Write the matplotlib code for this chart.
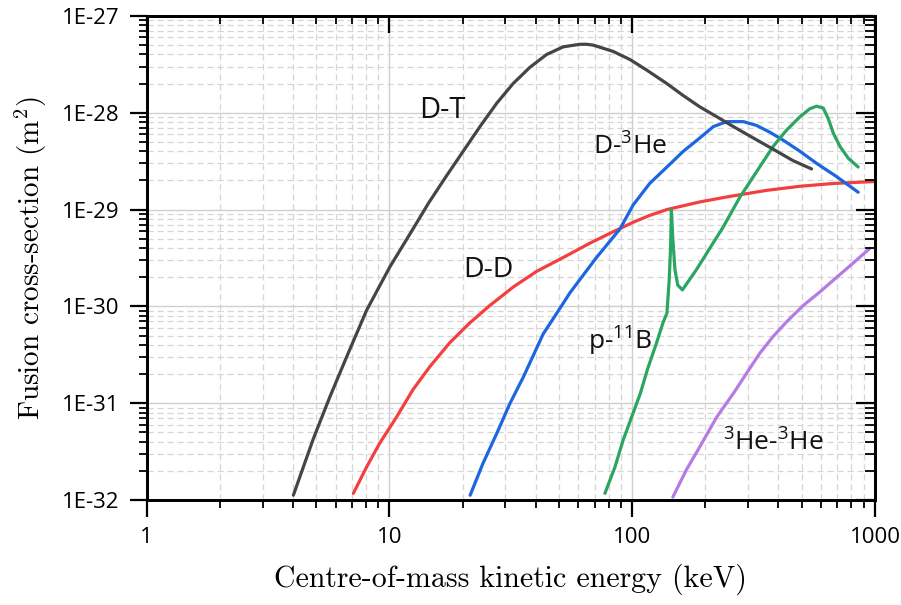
import matplotlib
matplotlib.use("Agg")
import matplotlib.pyplot as plt
from matplotlib.ticker import LogLocator, FuncFormatter, NullFormatter
import numpy as np

# centre-of-mass energy in keV, cross-section in m^2
dt_energy = [4.02, 4.86, 5.69, 6.66, 8.05, 10.05, 12.5, 14.5, 17.2, 20.1, 23.6,
             27.7, 32.3, 37.9, 44.4, 52, 60.9, 64.9, 69.1, 83.5, 97.9, 115,
             139, 162, 190, 223, 261, 315, 381, 460, 548]
dt_sigma = [1.12e-32, 4.3e-32, 1.17e-31, 3.0e-31, 9.1e-31, 2.57e-30, 6.3e-30,
            1.17e-29, 2.24e-29, 3.98e-29, 7.2e-29, 1.26e-28, 2.0e-28, 2.95e-28,
            4.0e-28, 4.8e-28, 5.1e-28, 5.1e-28, 5.0e-28, 4.3e-28, 3.55e-28,
            2.75e-28, 2.0e-28, 1.51e-28, 1.15e-28, 9.1e-29, 7.2e-29, 5.5e-29,
            4.2e-29, 3.2e-29, 2.63e-29]

dd_energy = [7.1, 8.05, 9.14, 10.7, 12.5, 14.7, 17.7, 21.5, 25.9, 32.3, 40.4,
             52, 67, 83.5, 101, 118, 139, 190, 245, 358, 491, 673, 1000]
dd_sigma = [1.17e-32, 2.19e-32, 3.9e-32, 7.2e-32, 1.38e-31, 2.4e-31, 4.2e-31,
            6.8e-31, 1.02e-30, 1.58e-30, 2.3e-30, 3.2e-30, 4.5e-30, 5.9e-30,
            7.4e-30, 8.7e-30, 1.0e-29, 1.2e-29, 1.35e-29, 1.58e-29, 1.74e-29,
            1.86e-29, 1.95e-29]

dhe3_energy = [21.5, 24.3, 27.7, 31.4, 35.6, 43, 48.9, 55.4, 62.8, 71.3, 89,
               101, 118, 139, 162, 190, 216, 245, 287, 325, 369, 419, 491, 575,
               695, 853]
dhe3_sigma = [1.12e-32, 2.4e-32, 4.9e-32, 1.0e-31, 1.86e-31, 5.2e-31, 8.5e-31,
              1.38e-30, 2.1e-30, 3.2e-30, 6.3e-30, 1.12e-29, 1.86e-29, 2.75e-29,
              3.98e-29, 5.5e-29, 7.2e-29, 8.1e-29, 8.1e-29, 7.4e-29, 6.3e-29,
              5.2e-29, 4.0e-29, 3.0e-29, 2.19e-29, 1.51e-29]

pb11_energy = [77.2, 84.9, 91.9, 99.5, 108, 116, 126, 134, 139, 142, 144, 145,
               147, 150, 154, 161, 184, 209, 237, 278, 325, 381, 432, 491, 539,
               575, 612, 642, 673, 717, 776, 853]
pb11_sigma = [1.17e-32, 2.19e-32, 4.2e-32, 7.2e-32, 1.26e-31, 2.3e-31, 4.2e-31,
              6.8e-31, 8.5e-31, 1.86e-30, 4.2e-30, 1.0e-29, 5.0e-30, 2.4e-30,
              1.66e-30, 1.48e-30, 2.4e-30, 4.0e-30, 6.6e-30, 1.35e-29, 2.45e-29,
              4.5e-29, 6.6e-29, 9.1e-29, 1.1e-28, 1.17e-28, 1.12e-28, 8.7e-29,
              6.2e-29, 4.5e-29, 3.4e-29, 2.75e-29]

he3he3_energy = [147, 167, 190, 223, 261, 296, 336, 381, 432, 506, 593, 673,
                 813, 953]
he3he3_sigma = [1.07e-32, 2.04e-32, 3.55e-32, 7.2e-32, 1.26e-31, 2.04e-31,
                3.3e-31, 4.9e-31, 6.9e-31, 1.02e-30, 1.41e-30, 1.86e-30,
                2.8e-30, 3.98e-30]

x_ticks = [1, 10, 100, 1000]
y_ticks = [1e-32, 1e-31, 1e-30, 1e-29, 1e-28, 1e-27]

plt.rcParams['mathtext.fontset'] = 'custom'
plt.rcParams['mathtext.rm'] = 'Open Sans'
plt.rcParams['mathtext.it'] = 'Open Sans'

fig = plt.figure(figsize=(9.01, 6.05), dpi=100)
ax = fig.add_axes([0.1628, 0.1736, 0.8083, 0.8])

curve_kw = dict(lw=2.3, solid_capstyle='round', solid_joinstyle='round')
ax.plot(dt_energy, dt_sigma, color='#454545', zorder=5, **curve_kw)
ax.plot(dd_energy, dd_sigma, color='#f23f3f', zorder=4, **curve_kw)
ax.plot(dhe3_energy, dhe3_sigma, color='#1c66df', zorder=4, **curve_kw)
ax.plot(pb11_energy, pb11_sigma, color='#2ba562', zorder=4, **curve_kw)
ax.plot(he3he3_energy, he3he3_sigma, color='#b67be3', zorder=4, **curve_kw)

ax.set_xscale('log')
ax.set_yscale('log')
ax.set_xlim(1, 1000)
ax.set_ylim(1e-32, 1e-27)

ax.set_xticks(x_ticks)
ax.set_yticks(y_ticks)
ax.xaxis.set_minor_locator(LogLocator(base=10, subs=np.arange(2, 10)))
ax.yaxis.set_minor_locator(LogLocator(base=10, subs=np.arange(2, 10), numticks=20))
ax.xaxis.set_minor_formatter(NullFormatter())
ax.yaxis.set_minor_formatter(NullFormatter())
ax.xaxis.set_major_formatter(FuncFormatter(lambda v, p: f"{v:g}"))
ax.yaxis.set_major_formatter(FuncFormatter(lambda v, p: f"1E{int(round(np.log10(v)))}"))

ax.grid(which='major', color='#cfcfcf', lw=1.0, ls='-', zorder=0)
ax.grid(which='minor', color='#d6d6d6', lw=0.9, ls=(0, (5, 3)), zorder=0)
ax.set_axisbelow(True)

for s in ax.spines.values():
    s.set_linewidth(1.8)

ax.tick_params(which='major', direction='out', length=12.5, width=1.6, pad=7,
               labelsize=16, top=False, right=False)
ax.tick_params(which='minor', direction='out', length=6, width=1.3,
               top=False, right=False)
for lab in ax.get_xticklabels() + ax.get_yticklabels():
    lab.set_family('Open Sans')

# top and right ticks point inward
axr = ax.twinx()
axr.set_yscale('log')
axr.set_ylim(ax.get_ylim())
axr.set_yticks(y_ticks)
axr.yaxis.set_minor_locator(LogLocator(base=10, subs=np.arange(2, 10), numticks=20))
axr.tick_params(which='major', direction='in', length=14, width=1.6, labelright=False)
axr.tick_params(which='minor', direction='in', length=7, width=1.3, labelright=False)
axr.yaxis.set_minor_formatter(NullFormatter())

axt = ax.twiny()
axt.set_xscale('log')
axt.set_xlim(ax.get_xlim())
axt.set_xticks(x_ticks)
axt.xaxis.set_minor_locator(LogLocator(base=10, subs=np.arange(2, 10)))
axt.tick_params(which='major', direction='in', length=12.5, width=1.6, labeltop=False)
axt.tick_params(which='minor', direction='in', length=6, width=1.3, labeltop=False)
axt.xaxis.set_minor_formatter(NullFormatter())
for a in (axr, axt):
    for s in a.spines.values():
        s.set_linewidth(1.8)

ax.set_xlabel('Centre-of-mass kinetic energy (keV)', family='cmr10',
              fontsize=21.5, labelpad=11)
ax.set_ylabel('Fusion cross-section (m$^2$)', family='cmr10', fontsize=21,
              labelpad=9, math_fontfamily='cm')

# reaction names next to their curves
lab_kw = dict(family='Open Sans', color='#111111', va='baseline', ha='left', zorder=6)
ax.text(13.2, 8.9e-29, 'D-T', fontsize=21, **lab_kw)
ax.text(69, 3.66e-29, 'D-$^3$He', fontsize=19, **lab_kw)
ax.text(20.1, 2.0e-30, 'D-D', fontsize=20.5, **lab_kw)
ax.text(65.8, 3.55e-31, 'p-$^{11}$B', fontsize=19, **lab_kw)
ax.text(237, 3.2e-32, '$^3$He-$^3$He', fontsize=19, **lab_kw)

fig.savefig('out.png', dpi=100)
